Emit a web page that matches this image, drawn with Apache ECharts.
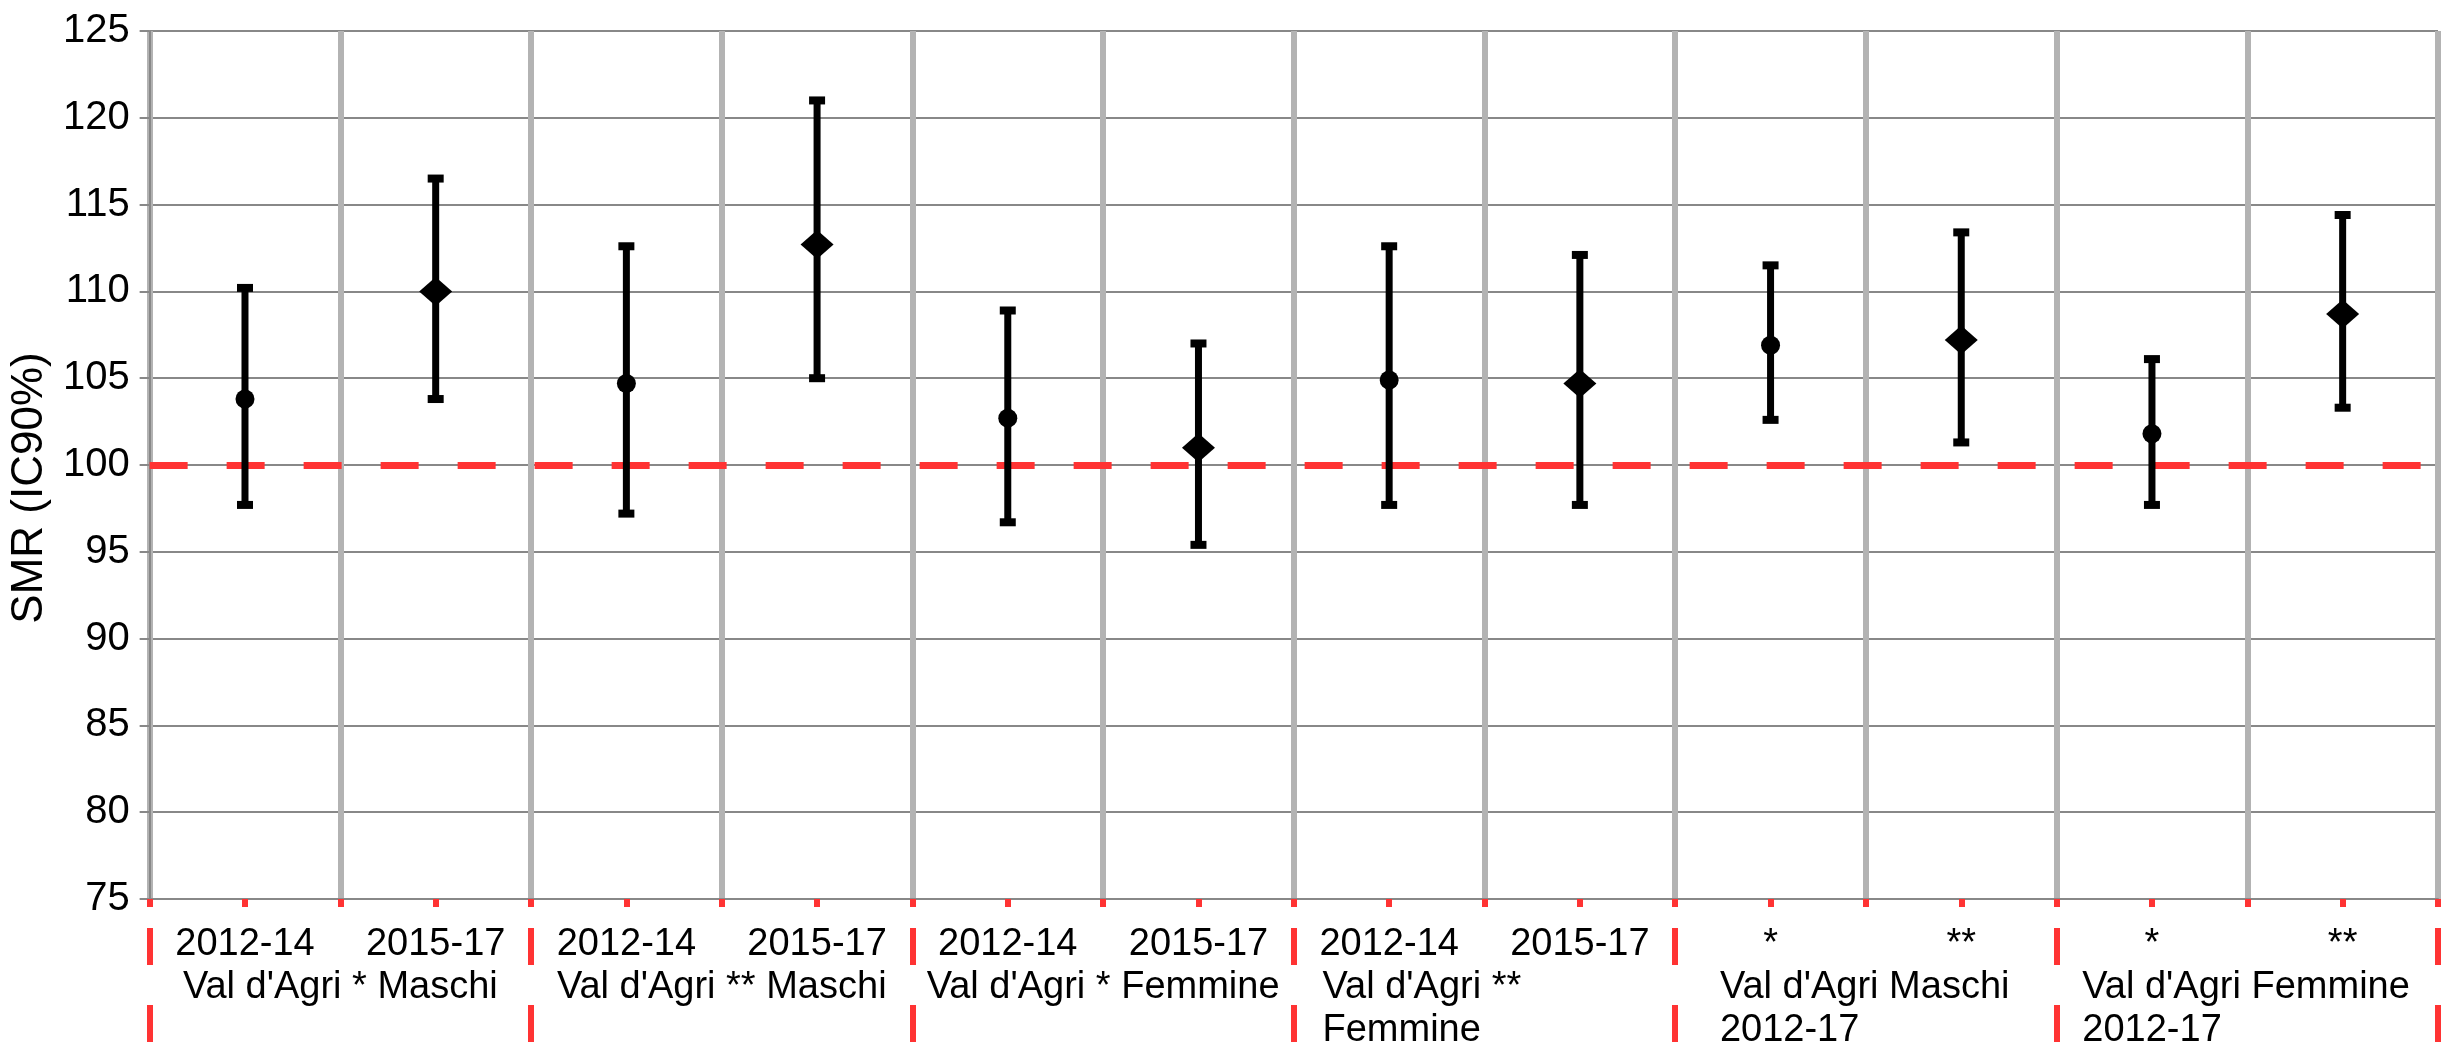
<!DOCTYPE html>
<html>
<head>
<meta charset="utf-8">
<script src="https://cdn.jsdelivr.net/npm/echarts@6/dist/echarts.min.js"></script>
<style>
html,body{margin:0;padding:0;background:#fff;}
#chart{width:2441px;height:1052px;}
</style>
</head>
<body>
<div id="chart"></div>
<script>
// ---- data ----
const categories = ['2012-14','2015-17','2012-14','2015-17','2012-14','2015-17','2012-14','2015-17','*','**','*','**'];
const groups = ["Val d'Agri * Maschi", "Val d'Agri ** Maschi", "Val d'Agri * Femmine", "Val d'Agri **\nFemmine", "Val d'Agri Maschi\n2012-17", "Val d'Agri Femmine\n2012-17"];
const smr   = [103.8, 110.0, 104.7, 112.7, 102.7, 101.0, 104.9, 104.7, 106.9, 107.2, 101.8, 108.7];
const lower = [ 97.7, 103.8,  97.2, 105.0,  96.7,  95.4,  97.7,  97.7, 102.6, 101.3,  97.7, 103.3];
const upper = [110.2, 116.5, 112.6, 121.0, 108.9, 107.0, 112.6, 112.1, 111.5, 113.4, 106.1, 114.4];
const yTicks = [75, 80, 85, 90, 95, 100, 105, 110, 115, 120, 125];
const reference = 100;

const FONT = "'Liberation Sans', Arial, sans-serif";
const RED = '#ff3333';
const chart = echarts.init(document.getElementById('chart'));

const groupWidths = {3: 324, 4: 292, 5: 330};
const rich = { p: {fontSize: 38, lineHeight: 43, color: '#000', fontFamily: FONT} };
Object.keys(groupWidths).forEach(k => {
  rich['w' + k] = {fontSize: 38, lineHeight: 43, color: '#000', fontFamily: FONT, width: groupWidths[k], align: 'left'};
});

const option = {
  animation: false,
  backgroundColor: '#fff',
  grid: {left: 145, right: 3, top: 31, bottom: 151, containLabel: false},
  xAxis: [
    {
      type: 'category', data: categories, position: 'bottom', offset: 0,
      boundaryGap: true,
      axisLine: {show: true, lineStyle: {color: '#888', width: 2}},
      axisTick: {show: true, interval: 0, length: 8, lineStyle: {color: RED, width: 6}},
      axisLabel: {interval: 0, margin: 24, fontSize: 38, lineHeight: 43, color: '#000', fontFamily: FONT},
      splitLine: {show: true, interval: 0, lineStyle: {color: '#b3b3b3', width: 6}}
    },
    {
      type: 'category', data: categories, position: 'bottom', offset: 0,
      axisLine: {show: false},
      axisTick: {show: true, interval: 0, alignWithLabel: true, length: 8, lineStyle: {color: RED, width: 6}},
      axisLabel: {show: false},
      splitLine: {show: false}
    },
    {
      type: 'category', data: groups, position: 'bottom', offset: 0,
      axisLine: {show: false},
      axisTick: {show: true, interval: 0, length: 143, lineStyle: {color: RED, width: 6, type: [8, 21, 37, 40, 37]}},
      axisLabel: {
        interval: 0, margin: 67, fontSize: 38, lineHeight: 43, color: '#000', fontFamily: FONT,
        formatter: function (v, i) {
          if (v.indexOf('\n') >= 0) {
            return v.split('\n').map(s => '{w' + i + '|' + s + '}').join('\n');
          }
          return '{p|' + v + '}';
        },
        rich: rich
      },
      splitLine: {show: false}
    }
  ],
  yAxis: {
    type: 'value', min: 75, max: 125, interval: 5,
    name: 'SMR (IC90%)', nameLocation: 'middle', nameGap: 64, nameRotate: 90,
    nameTextStyle: {fontSize: 44, color: '#000', fontFamily: FONT, padding: [0, 46, 0, 0]},
    axisLine: {show: true, lineStyle: {color: '#888', width: 2}},
    axisTick: {show: true, length: 10, lineStyle: {color: '#888', width: 2}},
    axisLabel: {margin: 20, fontSize: 40, color: '#000', fontFamily: FONT,
      formatter: v => yTicks.indexOf(v) >= 0 ? String(v) : ''},
    splitLine: {show: true, lineStyle: {color: '#888', width: 2}}
  },
  series: [
    {
      type: 'custom', xAxisIndex: 0, yAxisIndex: 0, z: 3,
      encode: {x: 0, y: [1, 2]},
      data: categories.map((c, i) => [i, lower[i], upper[i]]),
      renderItem: function (params, api) {
        const x = api.value(0);
        const lo = api.coord([x, api.value(1)]);
        const hi = api.coord([x, api.value(2)]);
        return {
          type: 'group',
          children: [
            {type: 'line', shape: {x1: lo[0], y1: lo[1], x2: hi[0], y2: hi[1]}, style: {stroke: '#000', lineWidth: 7}},
            {type: 'rect', shape: {x: hi[0] - 8, y: hi[1] - 4, width: 16, height: 8}, style: {fill: '#000'}},
            {type: 'rect', shape: {x: lo[0] - 8, y: lo[1] - 4, width: 16, height: 8}, style: {fill: '#000'}}
          ]
        };
      }
    },
    {
      type: 'scatter', xAxisIndex: 0, yAxisIndex: 0, z: 4,
      data: smr,
      symbol: (v, p) => p.dataIndex % 2 ? 'diamond' : 'circle',
      symbolSize: (v, p) => p.dataIndex % 2 ? [33, 29] : 19,
      itemStyle: {color: '#000', opacity: 1},
      markLine: {
        silent: true, symbol: 'none', animation: false, z: 2,
        label: {show: false},
        lineStyle: {color: RED, width: 7, type: [38, 39], opacity: 1},
        data: [{yAxis: reference}]
      }
    }
  ]
};
chart.setOption(option);
</script>
</body>
</html>
